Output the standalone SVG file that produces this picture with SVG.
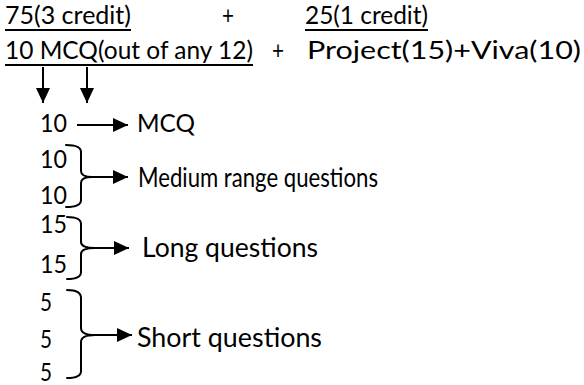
<svg xmlns="http://www.w3.org/2000/svg" width="584" height="385" viewBox="0 0 584 385">
<style>
text{font-family:Lato,"Open Sans",sans-serif;font-size:25px;fill:#000}
.h{font-size:25px}
.m{font-size:26px}
.u{stroke:#000;stroke-width:1.8}
.c{stroke:#000;stroke-width:2;fill:none}
.b{stroke:#000;stroke-width:2;fill:none;stroke-linecap:round}
</style>
<defs>
<marker id="ah" markerUnits="userSpaceOnUse" markerWidth="16" markerHeight="14" refX="15" refY="7" orient="auto">
<path d="M0,0 L15,7 L0,14 Z" fill="#000"/>
</marker>
</defs>
<g id="header">
<text class="h" x="5" y="24" textLength="126" lengthAdjust="spacingAndGlyphs">75(3 credit)</text>
<line class="u" x1="5" y1="30" x2="131" y2="30"/>
<text class="h" x="222" y="24" textLength="12" lengthAdjust="spacingAndGlyphs">+</text>
<text class="h" x="305" y="24" textLength="123" lengthAdjust="spacingAndGlyphs">25(1 credit)</text>
<line class="u" x1="305" y1="30" x2="428" y2="30"/>
<text class="h" x="5" y="59" textLength="248" lengthAdjust="spacingAndGlyphs">10 MCQ(out of any 12)</text>
<line class="u" x1="5" y1="65" x2="253" y2="65"/>
<text class="h" x="272" y="59" textLength="12" lengthAdjust="spacingAndGlyphs">+</text>
<text class="h" x="307" y="59" textLength="274" lengthAdjust="spacingAndGlyphs">Project(15)+Viva(10)</text>
</g>
<g id="mcq">
<text x="40" y="132" textLength="27" lengthAdjust="spacingAndGlyphs">10</text>
<text x="137" y="132" textLength="58" lengthAdjust="spacingAndGlyphs">MCQ</text>
</g>
<g id="medium">
<text x="40" y="168" textLength="27" lengthAdjust="spacingAndGlyphs">10</text>
<text x="40" y="204" textLength="27" lengthAdjust="spacingAndGlyphs">10</text>
<path class="b" d="M66,145 Q81,145 81,152 L81,171 Q81,177 92,177 Q81,177 81,183 L81,200 Q81,207 66,207"/>
<text class="m" x="138" y="187" textLength="240" lengthAdjust="spacingAndGlyphs">Medium range questions</text>
</g>
<g id="long">
<text x="40" y="233" textLength="27" lengthAdjust="spacingAndGlyphs">15</text>
<text x="40" y="273" textLength="27" lengthAdjust="spacingAndGlyphs">15</text>
<path class="b" d="M67,217 Q81,217 81,224 L81,242 Q81,248 95,248 Q81,248 81,254 L81,272 Q81,279 67,279"/>
<text class="m" x="142" y="257" textLength="176" lengthAdjust="spacingAndGlyphs">Long questions</text>
</g>
<g id="short">
<text x="40" y="311" textLength="12" lengthAdjust="spacingAndGlyphs">5</text>
<text x="40" y="348" textLength="12" lengthAdjust="spacingAndGlyphs">5</text>
<text x="40" y="381" textLength="12" lengthAdjust="spacingAndGlyphs">5</text>
<path class="b" d="M67,290 Q81,290 81,298 L81,328 Q81,335 95,335 Q81,335 81,342 L81,371 Q81,378 67,378"/>
<text class="m" x="137" y="347" textLength="185" lengthAdjust="spacingAndGlyphs">Short questions</text>
</g>
<g id="connectors">
<line class="c" x1="43" y1="67" x2="43" y2="103" marker-end="url(#ah)"/>
<line class="c" x1="87" y1="67" x2="87" y2="103" marker-end="url(#ah)"/>
<line class="c" x1="77" y1="125" x2="128" y2="125" marker-end="url(#ah)"/>
<line class="c" x1="92" y1="177" x2="128" y2="177" marker-end="url(#ah)"/>
<line class="c" x1="95" y1="248" x2="129" y2="248" marker-end="url(#ah)"/>
<line class="c" x1="95" y1="335" x2="132" y2="335" marker-end="url(#ah)"/>
</g>
</svg>
